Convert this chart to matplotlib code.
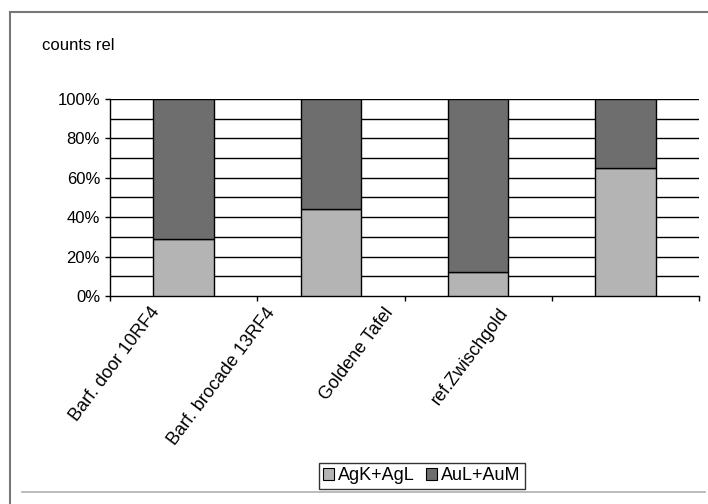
import matplotlib
matplotlib.use('Agg')
import matplotlib.pyplot as plt
from matplotlib.lines import Line2D
import numpy as np

samples = ["Barf. door 10RF4", "Barf. brocade 13RF4", "Goldene Tafel", "ref.Zwischgold"]
ag_share = [29, 44, 12, 65]      # AgK+AgL in %
au_share = [71, 56, 88, 35]      # AuL+AuM in %
series_names = ["AgK+AgL", "AuL+AuM"]
colors = ["#b4b4b4", "#6e6e6e"]

plt.rcParams['font.family'] = ['Liberation Sans', 'DejaVu Sans']

fig = plt.figure(figsize=(7.08, 5.04), dpi=100)
ax = fig.add_axes([0.1554, 0.4127, 0.8319, 0.3909])

x = np.arange(len(samples))
width = 0.41
ax.bar(x, ag_share, width, color=colors[0], edgecolor='black', linewidth=1.0,
       label=series_names[0], zorder=3)
ax.bar(x, au_share, width, bottom=ag_share, color=colors[1], edgecolor='black',
       linewidth=1.0, label=series_names[1], zorder=3)

ax.set_xlim(-0.5, len(samples) - 0.5)
ax.set_ylim(0, 100)

# gridlines every 10 %, labels every 20 %
for yv in range(10, 101, 10):
    ax.axhline(yv, color='black', linewidth=1.0, zorder=1)
ax.set_yticks(range(0, 101, 20))
ax.set_yticklabels([f"{v}%" for v in range(0, 101, 20)], fontsize=12)
ax.tick_params(axis='y', direction='out', length=3.6, width=1, pad=3.6)

# category boundary ticks on x
ax.set_xticks(np.arange(-0.5, len(samples), 1.0))
ax.set_xticklabels([])
ax.tick_params(axis='x', direction='out', length=3.6, width=1)

for side in ['top', 'right']:
    ax.spines[side].set_visible(False)
ax.spines['left'].set_linewidth(1.0)
ax.spines['bottom'].set_linewidth(1.0)

# rotated category names
shifts = [-34, -66, -95, -127]
for i, name in enumerate(samples):
    ax.annotate(name, xy=(x[i], 0), xycoords=('data', 'axes fraction'),
                xytext=(shifts[i] * 0.72, -6), textcoords='offset points',
                rotation=53, ha='right', va='top', rotation_mode='anchor',
                fontsize=13)

fig.text(42 / 708, 1 - 45 / 504, "counts rel", fontsize=12, va='center', ha='left')

handles = [plt.Rectangle((0, 0), 1, 1, facecolor=c, edgecolor='black', linewidth=0.8)
           for c in colors]
leg = fig.legend(handles, series_names, loc='center', bbox_to_anchor=(0.596, 0.056),
                 ncol=2, fontsize=13, frameon=True, fancybox=False,
                 handlelength=0.6, handleheight=0.6, handletextpad=0.25,
                 columnspacing=0.6, borderpad=0.25)
leg.get_frame().set_edgecolor('black')
leg.get_frame().set_linewidth(1.0)

# outer chart frame and bottom rule
fig.add_artist(Line2D([10 / 708, 10 / 708], [0, 1 - 12 / 504], color='#777777', linewidth=1.5))
fig.add_artist(Line2D([10 / 708, 707 / 708], [1 - 12 / 504, 1 - 12 / 504], color='#777777', linewidth=1.5))
fig.add_artist(Line2D([22 / 708, 705 / 708], [1 - 492 / 504, 1 - 492 / 504], color='#b0b0b0', linewidth=1.2))

fig.savefig('out.png', dpi=100)
